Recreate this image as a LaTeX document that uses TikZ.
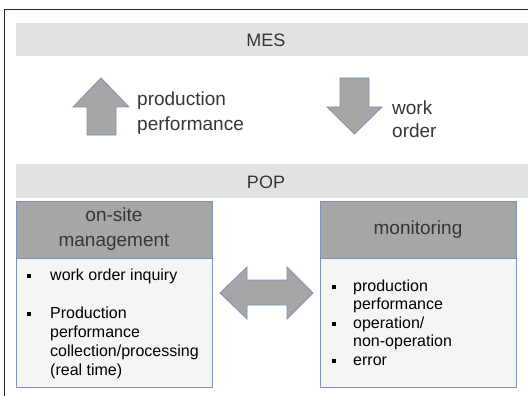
\documentclass[tikz,border=0pt]{standalone}
\usepackage{fontspec}
\setmainfont{Liberation Sans}
\usepackage{tikz}

\definecolor{bandgray}{HTML}{E2E2E2}
\definecolor{shapegray}{HTML}{A6A6A6}
\definecolor{edgeblue}{HTML}{7F93B8}
\definecolor{bodygray}{HTML}{F5F5F5}
\definecolor{textgray}{HTML}{363636}

\newcommand{\sqbullet}{\rule[2.2pt]{4pt}{4pt}}

\begin{document}
\begin{tikzpicture}
  [x=1pt,y=-1pt,every node/.style={align=center,inner sep=0pt,text=textgray}]
  \tikzstyle{band}=[fill=bandgray,minimum width=512pt,minimum height=33pt]
  \tikzstyle{head}=[fill=shapegray,draw=edgeblue,line width=0.8pt,minimum width=196pt,minimum height=57pt,font=\fontsize{19}{25}\selectfont]
  \tikzstyle{body}=[fill=bodygray,draw=edgeblue,line width=0.8pt,minimum width=196pt,minimum height=129pt]
  \tikzstyle{blockarrow}=[fill=shapegray,draw=edgeblue,line width=0.8pt,line join=miter]
  \tikzstyle{list}=[anchor=base west,align=left,font=\fontsize{16}{19}\selectfont,text=black]
  \useasboundingbox (0,0) rectangle (528,396);
  \draw[line width=0.8pt,black!85] (4,396) -- (4,9) -- (528,9);

  \begin{scope}
    \node[band] (mes) at (272,39.5) {};
    \node[font=\fontsize{18}{20}\selectfont] (meslabel) at (266,40) {MES};
    \node[band,minimum height=34pt] (pop) at (272,181) {};
    \node[font=\fontsize{18}{20}\selectfont] (poplabel) at (266,182) {POP};
  \end{scope}

  \begin{scope}
    \filldraw[blockarrow] (101,78) -- (129,107) -- (116,107) -- (116,135) -- (87,135) -- (87,107) -- (73,107) -- cycle;
    \node[anchor=west,align=left,font=\fontsize{19}{25}\selectfont] (uplabel) at (137,113) {production\\performance};
    \filldraw[blockarrow] (354.5,134) -- (382,107) -- (369,107) -- (369,78) -- (340,78) -- (340,107) -- (327,107) -- cycle;
    \node[anchor=west,align=left,font=\fontsize{19}{23}\selectfont] (downlabel) at (392,119) {work\\order};
  \end{scope}

  \begin{scope}
    \node[head] (onsite) at (114,229.5) {on-site\\management};
    \node[body] (onsitebody) at (114,322.5) {};
    \node[list] (onsitelist) at (27,280) {\begin{tabular}[t]{@{}p{23pt}@{}l@{}}
      \sqbullet & work order inquiry\\
      & \\
      \sqbullet & Production\\
      & performance\\
      & collection/processing\\
      & (real time)
    \end{tabular}};
  \end{scope}
  \begin{scope}
    \node[head] (monitor) at (418,229.5) {monitoring};
    \node[body] (monitorbody) at (418,322.5) {};
    \node[list,font=\fontsize{16}{18.5}\selectfont] (monitorlist) at (332,291) {\begin{tabular}[t]{@{}p{21pt}@{}l@{}}
      \sqbullet & production\\
      & performance\\
      \sqbullet & operation/\\
      & non-operation\\
      \sqbullet & error
    \end{tabular}};
  \end{scope}

  \filldraw[blockarrow] (220,293) -- (247,267) -- (247,280) -- (287,280) -- (287,267) -- (313,293) -- (287,319) -- (287,305) -- (247,305) -- (247,319) -- cycle;

\end{tikzpicture}
\end{document}
